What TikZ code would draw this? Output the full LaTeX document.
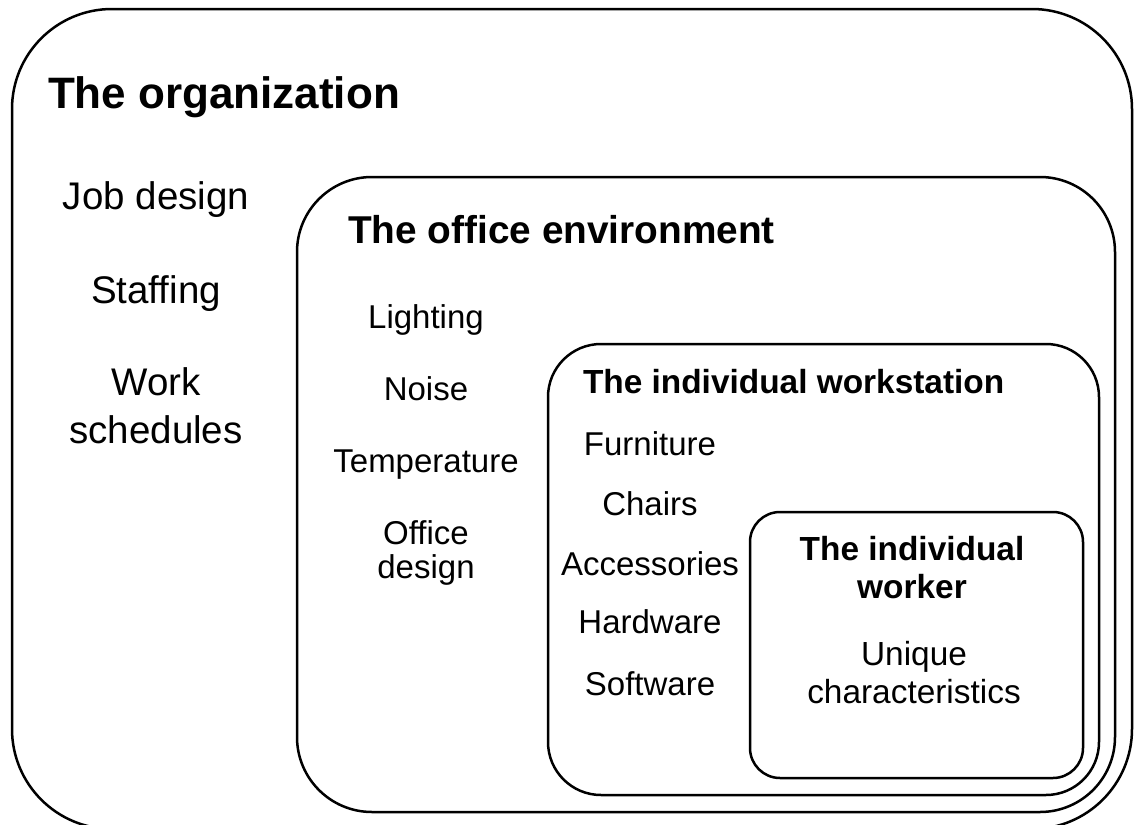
\documentclass[tikz,border=0pt]{standalone}
\usepackage{fontspec}
\setmainfont{Liberation Sans}
\begin{document}
\begin{tikzpicture}[x=1pt,y=-1pt,
  boxline/.style={draw=black,line width=2.5pt},
  lbl/.style={inner sep=0pt,outer sep=0pt,anchor=base},
  head/.style={inner sep=0pt,outer sep=0pt,anchor=base west},
  bigA/.style={font=\fontsize{44}{50}\selectfont\bfseries},
  bigB/.style={font=\fontsize{38.8}{44}\selectfont\bfseries},
  midB/.style={font=\fontsize{33.4}{38}\selectfont\bfseries},
  txtA/.style={font=\fontsize{38.5}{48}\selectfont},
  txtB/.style={font=\fontsize{33}{38}\selectfont}]
\useasboundingbox (0,0) rectangle (1136,825);
\begin{scope}
\clip (0,0) rectangle (1136,825);
\draw[boxline,rounded corners=100pt] (12,9) rectangle (1132,829);
\draw[boxline,rounded corners=75pt] (297,177) rectangle (1115,812);
\draw[boxline,rounded corners=53pt] (548,344) rectangle (1099,795);
\draw[boxline,rounded corners=30pt] (750,512) rectangle (1083,778);
\end{scope}
% organization
\node[head,bigA] (org) at (48,108) {The organization};
\node[lbl,txtA] (job) at (156,209) {Job design};
\node[lbl,txtA] (staff) at (156,303) {Staffing};
\node[lbl,txtA] (sched) at (156,395) {\begin{tabular}[t]{@{}c@{}}Work\\schedules\end{tabular}};
% office
\node[head,bigB] (office) at (348,243) {The office environment};
\node[lbl,txtB] (light) at (426,328) {Lighting};
\node[lbl,txtB] (noise) at (426,400) {Noise};
\node[lbl,txtB] (temp) at (426,472) {Temperature};
\node[lbl,font=\fontsize{33}{34}\selectfont] (odesign) at (426,544) {\begin{tabular}[t]{@{}c@{}}Office\\design\end{tabular}};
% workstation
\node[head,midB] (ws) at (583,393) {The individual workstation};
\node[lbl,txtB] (furn) at (650,455) {Furniture};
\node[lbl,txtB] (chairs) at (650,515) {Chairs};
\node[lbl,txtB] (acc) at (650,575) {Accessories};
\node[lbl,txtB] (hw) at (650,633) {Hardware};
\node[lbl,txtB] (sw) at (650,695) {Software};
% worker
\node[lbl,midB] (worker) at (912,560) {\begin{tabular}[t]{@{}c@{}}The individual\\worker\end{tabular}};
\node[lbl,font=\fontsize{33.4}{38}\selectfont] (uniq) at (914,665) {\begin{tabular}[t]{@{}c@{}}Unique\\characteristics\end{tabular}};
\end{tikzpicture}
\end{document}
